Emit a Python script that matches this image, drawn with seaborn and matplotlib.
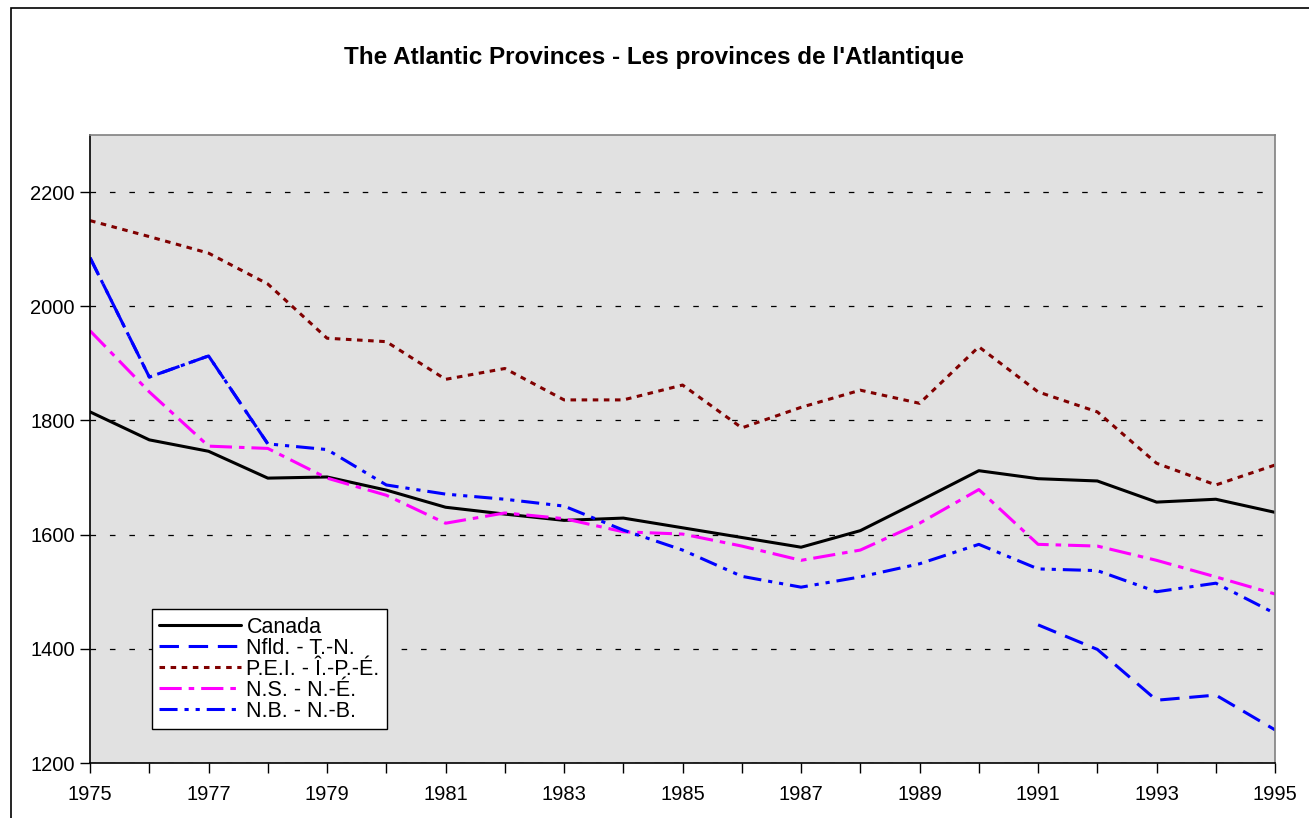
import numpy as np
import pandas as pd
import matplotlib.pyplot as plt
plt.switch_backend('agg')
import seaborn as sns
from matplotlib.patches import Rectangle

# data
years = list(range(1975, 1996))
canada = [1815, 1766, 1746, 1699, 1701, 1678, 1648, 1636, 1625, 1629,
          1612, 1595, 1578, 1607, 1659, 1712, 1698, 1694, 1657, 1662, 1639]
nfld = [2085, 1876, 1913, 1759] + [np.nan] * 12 + [1442, 1399, 1310, 1319, 1258]
pei = [2150, 2122, 2093, 2039, 1944, 1938, 1872, 1891, 1836, 1836,
       1862, 1787, 1823, 1853, 1830, 1929, 1850, 1815, 1725, 1687, 1722]
ns = [1957, 1850, 1755, 1751, 1699, 1669, 1620, 1638, 1628, 1605,
      1601, 1580, 1555, 1573, 1620, 1679, 1583, 1580, 1555, 1526, 1496]
nb = [2085, 1876, 1913, 1759, 1749, 1687, 1671, 1662, 1650, 1608,
      1573, 1527, 1508, 1526, 1549, 1583, 1540, 1537, 1500, 1515, 1462]

labels = ["Canada", "Nfld. - T.-N.", "P.E.I. - Î.-P.-É.", "N.S. - N.-É.", "N.B. - N.-B."]
series = [canada, nfld, pei, ns, nb]
colors = ["black", "#0000ff", "#800000", "#ff00ff", "#0000ff"]
styles = ["-", (0, (14, 7)), (0, (4, 4)), (0, (16, 5, 4, 5)), (0, (13, 5, 3, 5, 3, 5))]

sns.set_theme(style="ticks")
plt.rcParams['font.family'] = ['Liberation Sans', 'DejaVu Sans']
plt.rcParams['lines.scale_dashes'] = False
plt.rcParams['text.color'] = 'black'

fig = plt.figure(figsize=(13.09, 8.18), dpi=100)
ax = fig.add_axes([0.0688, 0.0672, 0.9053, 0.7678])
ax.set_facecolor("#e1e1e1")

for lab, vals, col, ls in zip(labels, series, colors, styles):
	df = pd.DataFrame({"year": years, "value": vals})
	# split into runs without gaps so missing years are not joined
	df["seg"] = df["value"].isna().cumsum()
	df = df.dropna()
	first = True
	for seg, sub in df.groupby("seg"):
		sns.lineplot(x=sub["year"], y=sub["value"], ax=ax, color=col, linestyle=ls,
		             lw=2.2, label=lab if first else None, legend=False)
		first = False

ax.set_xlim(1975, 1995)
ax.set_ylim(1200, 2300)
ax.set_yticks(range(1200, 2201, 200))
ax.set_xticks(years)
ax.set_xticklabels([str(y) if y % 2 == 1 else "" for y in years])
ax.tick_params(axis="both", labelsize=14.5, colors="black", length=7, width=1)
ax.tick_params(axis="x", pad=9)
ax.tick_params(axis="y", pad=4)
ax.set_xlabel("")
ax.set_ylabel("")
ax.yaxis.grid(True, color="black", linestyle=(0, (4, 10)), lw=0.9)
ax.set_axisbelow(True)

for s in ["left", "bottom"]:
	ax.spines[s].set_color("black")
	ax.spines[s].set_linewidth(1.2)
for s in ["top", "right"]:
	ax.spines[s].set_visible(True)
	ax.spines[s].set_color("#808080")
	ax.spines[s].set_linewidth(1.2)

leg = ax.legend(loc="upper left", bbox_to_anchor=(0.052, 0.245), borderaxespad=0,
                fontsize=15.5, handlelength=3.8, handletextpad=0.25, labelspacing=0.0,
                borderpad=0.35, fancybox=False, framealpha=1, edgecolor="black")
leg.get_frame().set_linewidth(1.0)

fig.text(0.5, 0.930, "The Atlantic Provinces - Les provinces de l'Atlantique",
         ha="center", va="center", fontsize=17.5, fontweight="bold")

# outer chart border (only left and top show in the reference)
fig.patches.append(Rectangle((0.0084, -0.1), 1.2, 1.09, transform=fig.transFigure,
                             fill=False, edgecolor="black", lw=1.2))

fig.savefig("out.png", dpi=100)
